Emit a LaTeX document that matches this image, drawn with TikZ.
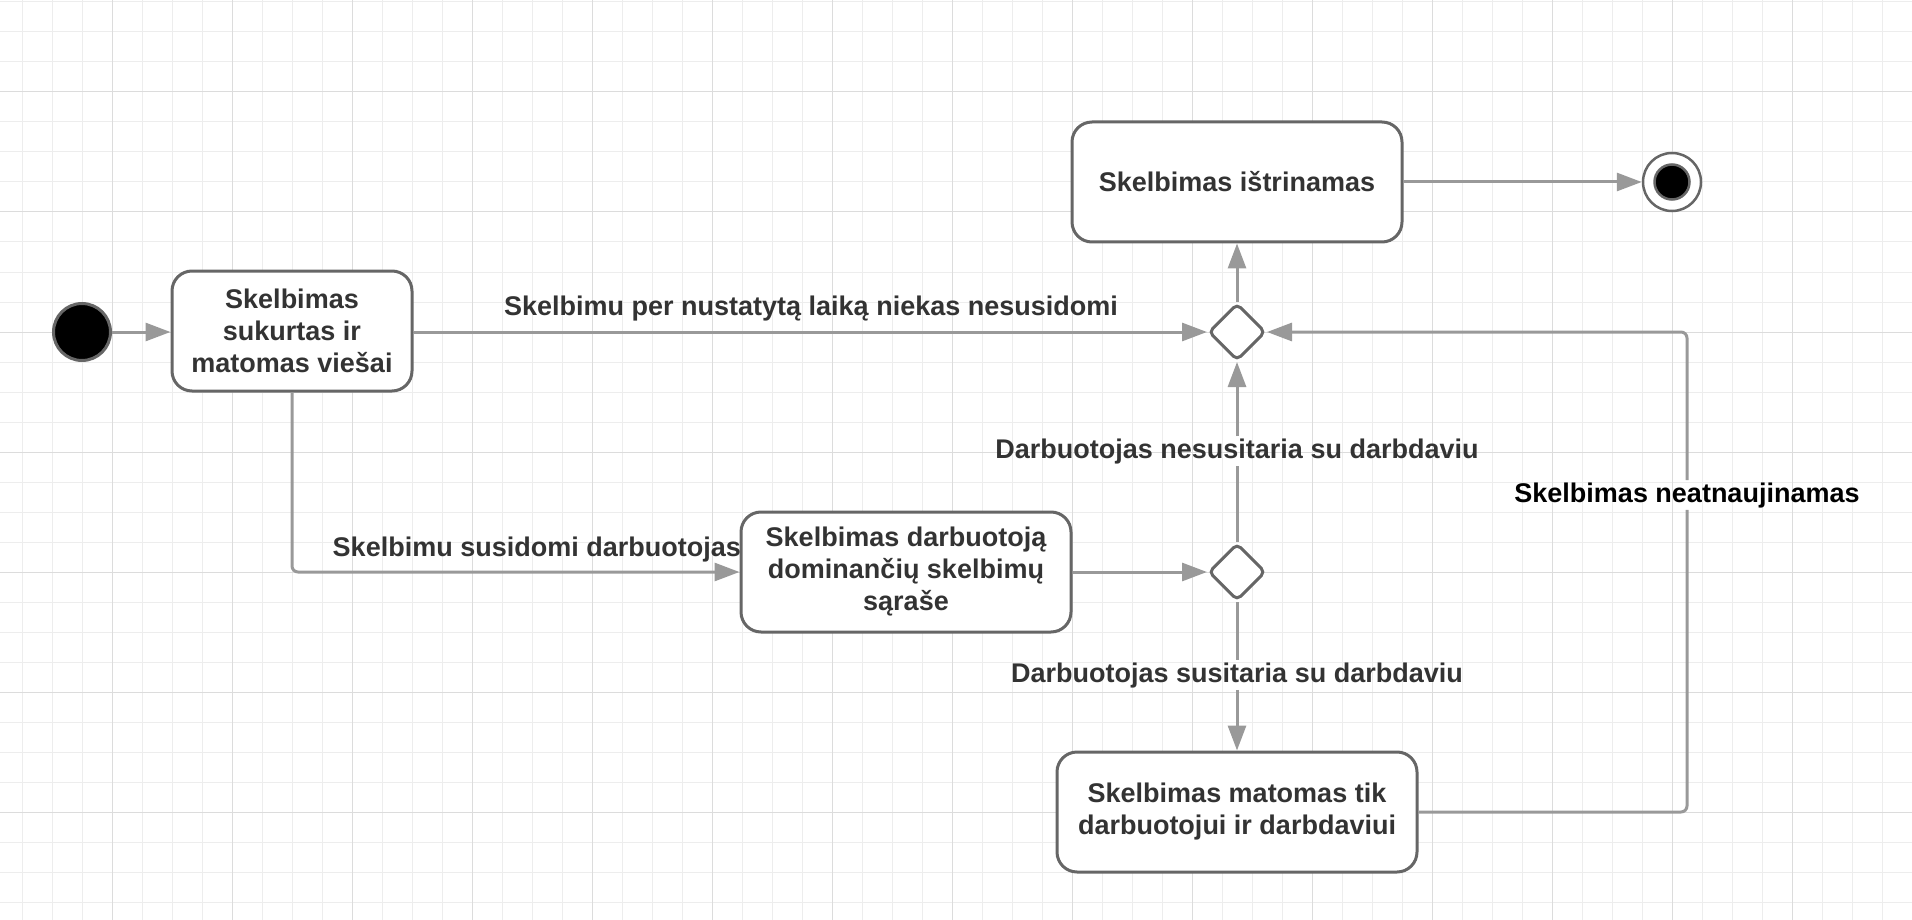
\documentclass[tikz,border=0pt]{standalone}
\usepackage{fontspec}
\setmainfont{Liberation Sans}
\usetikzlibrary{arrows.meta,shapes.geometric}
\definecolor{gborde}{HTML}{666666}
\definecolor{glinija}{HTML}{999999}
\definecolor{gtekstas}{HTML}{333333}
\definecolor{gmaza}{HTML}{EDEDED}
\definecolor{gdide}{HTML}{DCDCDC}
\tikzset{
  >={Triangle[length=25pt, width=18pt]},
  raides/.style={font=\bfseries\fontsize{27}{32}\selectfont, text=gtekstas},
  busena/.style={raides, draw=gborde, line width=3pt, rounded corners=20pt, fill=white,
    align=center, minimum height=120pt, inner sep=0pt},
  sprendimas/.style={diamond, draw=gborde, line width=3pt, rounded corners=5pt, fill=white,
    minimum size=57pt, inner sep=0pt},
  linija/.style={glinija, line width=3pt, rounded corners=6pt},
  perejimas/.style={linija, ->},
  uzrasas/.style={raides, inner sep=2pt},
  pradzia/.style={circle, fill=black, draw=gborde, line width=3pt, minimum size=57pt, inner sep=0pt},
  pabaiga/.style={circle, fill=white, draw=gborde, line width=2.5pt, minimum size=58pt, inner sep=0pt},
  tinklelis/.style={line width=1pt},
}
\begin{document}
\begin{tikzpicture}[x=1pt, y=-1pt]
  \useasboundingbox (0,0) rectangle (1912,920);
  \foreach \gx in {22,52,...,1912} \draw[tinklelis, gmaza] (\gx,0) -- (\gx,920);
  \foreach \gy in {2,32,...,920} \draw[tinklelis, gmaza] (0,\gy) -- (1912,\gy);
  \foreach \gx in {112,232,...,1912} \draw[tinklelis, gdide] (\gx,0) -- (\gx,920);
  \foreach \gy in {92,212,...,920} \draw[tinklelis, gdide] (0,\gy) -- (1912,\gy);

  \node[pradzia] (start) at (82,332) {};
  \node[busena, minimum width=240pt] (sukurtas) at (292,331) {Skelbimas\\sukurtas ir\\matomas viešai};
  \node[busena, minimum width=330pt] (istrintas) at (1237,182) {Skelbimas ištrinamas};
  \node[busena, minimum width=330pt] (sarasas) at (906,572) {Skelbimas darbuotoją\\dominančių skelbimų\\sąraše};
  \node[busena, minimum width=360pt] (matomas) at (1237,812) {Skelbimas matomas tik\\darbuotojui ir darbdaviui};
  \node[sprendimas] (spr1) at (1237,332) {};
  \node[sprendimas] (spr2) at (1237,572) {};
  \node[pabaiga] (galas) at (1672,182) {};
  \node[circle, fill=black, draw=gborde, line width=2.5pt, minimum size=35pt, inner sep=0pt] (galasC) at (galas) {};

  \node[uzrasas, anchor=base] (u1) at (811,315) {Skelbimu per nustatytą laiką niekas nesusidomi};
  \node[uzrasas, anchor=base east] (u2) at (743,556) {Skelbimu susidomi darbuotojas};
  \node[uzrasas, anchor=base] (u3) at (1237,458) {Darbuotojas nesusitaria su darbdaviu};
  \node[uzrasas, anchor=base] (u4) at (1237,682) {Darbuotojas susitaria su darbdaviu};
  \node[uzrasas, anchor=base, text=black] (u5) at (1687,502) {Skelbimas neatnaujinamas};

  \draw[perejimas] (start) -- (sukurtas.west |- start);
  \draw[perejimas] (sukurtas.east |- spr1) -- (spr1);
  \draw[perejimas] (sukurtas) |- (sarasas);
  \draw[perejimas] (sarasas) -- (spr2);
  \draw[linija] (spr2) -- (u3);
  \draw[perejimas] (u3) -- (spr1);
  \draw[linija] (spr2) -- (u4);
  \draw[perejimas] (u4) -- (matomas);
  \draw[perejimas] (spr1) -- (istrintas);
  \draw[perejimas] (istrintas) -- (galas);
  \draw[linija] (matomas) -| (u5);
  \draw[perejimas] (u5) |- (spr1);
\end{tikzpicture}
\end{document}
